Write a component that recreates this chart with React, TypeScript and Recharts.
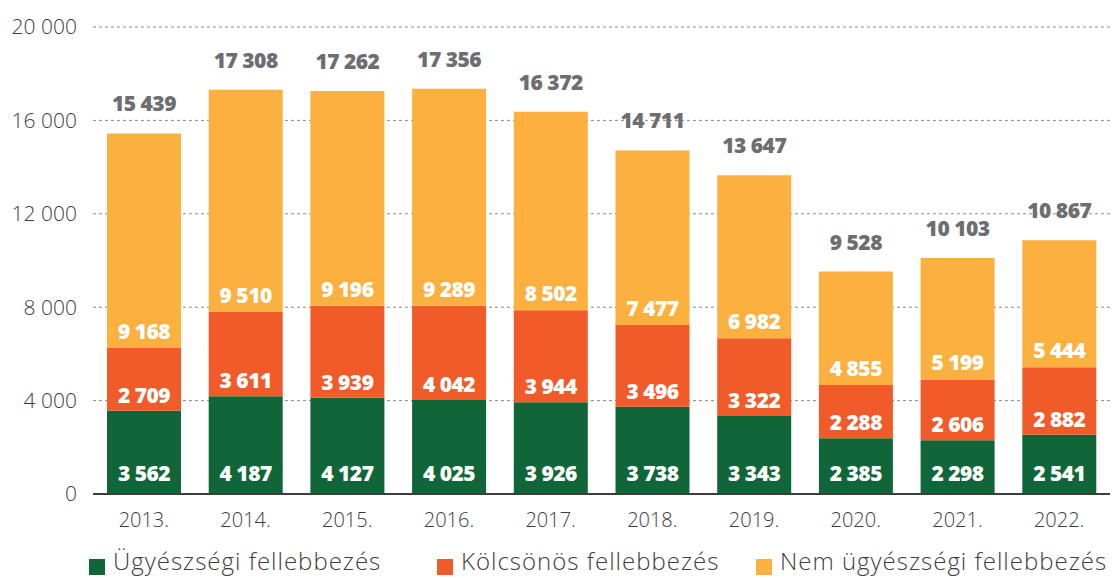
import { BarChart, Bar, XAxis, YAxis, CartesianGrid, LabelList } from "recharts";

const years = ["2013.", "2014.", "2015.", "2016.", "2017.", "2018.", "2019.", "2020.", "2021.", "2022."];
const ugyeszsegi = [3562, 4187, 4127, 4025, 3926, 3738, 3343, 2385, 2298, 2541];
const kolcsonos = [2709, 3611, 3939, 4042, 3944, 3496, 3322, 2288, 2606, 2882];
const nemUgyeszsegi = [9168, 9510, 9196, 9289, 8502, 7477, 6982, 4855, 5199, 5444];
const totals = [15439, 17308, 17262, 17356, 16372, 14711, 13647, 9528, 10103, 10867];
const yTicks = [0, 4000, 8000, 12000, 16000, 20000];

const data = years.map((year, i) => ({
  year,
  ugyeszsegi: ugyeszsegi[i],
  kolcsonos: kolcsonos[i],
  nemUgyeszsegi: nemUgyeszsegi[i],
  total: totals[i],
}));

const GREEN = "#116639";
const ORANGE = "#f15a29";
const YELLOW = "#fbb040";
const FONT = "'Open Sans', sans-serif";

const fmt = (v: number) => String(v).replace(/\B(?=(\d{3})+(?!\d))/g, " ");

// white value near the bottom of each stacked segment
const segmentLabel = (lift: number) => (props: any) => {
  const { x, y, width, height, value } = props;
  return (
    <text
      x={x + width / 2}
      y={y + height - lift}
      textAnchor="middle"
      dominantBaseline="central"
      fill="#fff"
      fontFamily={FONT}
      fontWeight={800}
      fontSize={21}
      letterSpacing={-0.5}
    >
      {fmt(value)}
    </text>
  );
};

function TotalLabel(props: any) {
  const { x, y, width, value } = props;
  return (
    <text
      x={x + width / 2}
      y={y - 30}
      textAnchor="middle"
      dominantBaseline="central"
      fill="#6d6e71"
      fontFamily={FONT}
      fontWeight={800}
      fontSize={21}
      letterSpacing={-0.5}
    >
      {fmt(value)}
    </text>
  );
}

const legendItems = [
  { label: "Ügyészségi fellebbezés", color: GREEN, left: 89 },
  { label: "Kölcsönös fellebbezés", color: ORANGE, left: 437 },
  { label: "Nem ügyészségi fellebbezés", color: YELLOW, left: 756 },
];

export default function App() {
  return (
    <div style={{ position: "absolute", left: 0, top: 0, width: 1112, height: 578, overflow: "hidden", background: "#fff" }}>
      <BarChart
        width={1112}
        height={578}
        data={data}
        margin={{ top: 27, right: 2, left: 0, bottom: 54 }}
        barSize={74}
      >
        <CartesianGrid vertical={false} stroke="#8a8a8a" strokeDasharray="3 3" />
        <XAxis
          dataKey="year"
          height={30}
          tickLine={false}
          tickSize={0}
          tickMargin={19}
          axisLine={{ stroke: "#3d3d3d", strokeWidth: 2 }}
          tick={{ fill: "#3d3d3d", fontSize: 20, fontFamily: FONT, fontWeight: 300 }}
        />
        <YAxis
          width={93}
          domain={[0, 20000]}
          ticks={yTicks}
          tickFormatter={fmt}
          axisLine={false}
          tickLine={false}
          tickSize={0}
          tickMargin={16}
          tick={{ fill: "#3d3d3d", fontSize: 21, fontFamily: FONT, fontWeight: 300 }}
        />
        <Bar dataKey="ugyeszsegi" stackId="a" fill={GREEN} isAnimationActive={false}>
          <LabelList dataKey="ugyeszsegi" content={segmentLabel(21)} />
        </Bar>
        <Bar dataKey="kolcsonos" stackId="a" fill={ORANGE} isAnimationActive={false}>
          <LabelList dataKey="kolcsonos" content={segmentLabel(16)} />
        </Bar>
        <Bar dataKey="nemUgyeszsegi" stackId="a" fill={YELLOW} isAnimationActive={false}>
          <LabelList dataKey="nemUgyeszsegi" content={segmentLabel(17)} />
          <LabelList dataKey="total" content={TotalLabel} />
        </Bar>
      </BarChart>
      {legendItems.map((it) => (
        <div
          key={it.label}
          style={{
            position: "absolute",
            left: it.left,
            top: 549,
            display: "flex",
            alignItems: "flex-start",
            fontFamily: FONT,
            fontWeight: 300,
            fontSize: 24,
            lineHeight: "24px",
            letterSpacing: 1,
            color: "#3d3d3d",
            whiteSpace: "nowrap",
          }}
        >
          <span style={{ display: "inline-block", width: 16, height: 16, background: it.color, marginTop: 10, marginRight: 8 }} />
          {it.label}
        </div>
      ))}
    </div>
  );
}
